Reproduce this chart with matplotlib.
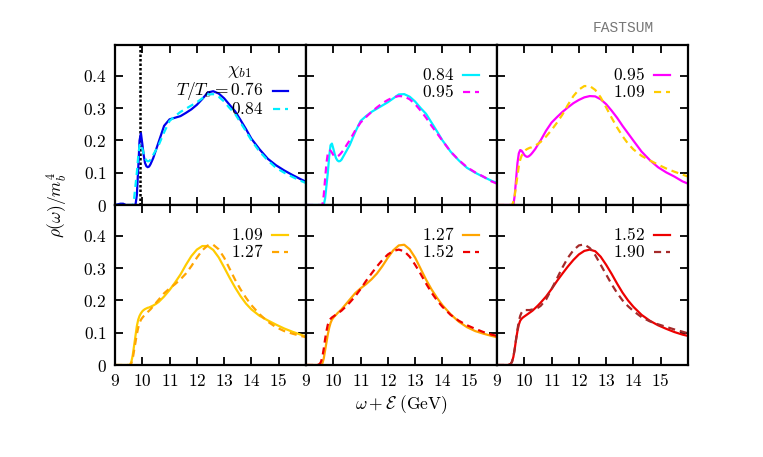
import matplotlib
matplotlib.use("Agg")
import matplotlib.pyplot as plt
import numpy as np

plt.rcParams['mathtext.fontset'] = 'cm'
plt.rcParams['font.family'] = ['DejaVu Serif']

# ---------------- data ----------------
omega = [9.0, 9.2, 9.3, 9.4, 9.5, 9.55, 9.6, 9.65, 9.7, 9.75, 9.8, 9.85, 9.9, 9.95,
         10.0, 10.05, 10.1, 10.15, 10.2, 10.25, 10.3, 10.4, 10.5, 10.6, 10.8, 11.0,
         11.2, 11.4, 11.6, 11.8, 12.0, 12.2, 12.4, 12.6, 12.8, 13.0, 13.2, 13.4,
         13.6, 13.8, 14.0, 14.3, 14.6, 14.9, 15.2, 15.5, 15.8, 16.0]

rho_076 = [0.0, 0.004, 0.004, 0.0, 0.0, 0.0, 0.0, 0.0, 0.0, 0.0, 0.03, 0.11, 0.20, 0.222,
           0.19, 0.155, 0.13, 0.12, 0.117, 0.119, 0.126, 0.145, 0.17, 0.195, 0.245, 0.265,
           0.27, 0.275, 0.285, 0.296, 0.31, 0.328, 0.348, 0.352, 0.345, 0.33, 0.31, 0.29,
           0.263, 0.235, 0.205, 0.172, 0.143, 0.123, 0.107, 0.093, 0.080, 0.072]
rho_084 = [0.0, 0.0, 0.0, 0.0, 0.0, 0.0, 0.0, 0.0, 0.02, 0.06, 0.10, 0.15, 0.185, 0.19,
           0.175, 0.158, 0.145, 0.138, 0.135, 0.136, 0.14, 0.155, 0.17, 0.185, 0.225, 0.26,
           0.275, 0.288, 0.298, 0.308, 0.318, 0.33, 0.342, 0.343, 0.335, 0.32, 0.30, 0.282,
           0.255, 0.228, 0.20, 0.165, 0.138, 0.115, 0.10, 0.087, 0.075, 0.068]
rho_095 = [0.0, 0.0, 0.0, 0.0, 0.0, 0.0, 0.0, 0.03, 0.08, 0.13, 0.16, 0.170, 0.168, 0.162,
           0.155, 0.151, 0.149, 0.150, 0.153, 0.157, 0.162, 0.173, 0.187, 0.20, 0.23, 0.255,
           0.272, 0.288, 0.302, 0.315, 0.325, 0.333, 0.337, 0.336, 0.327, 0.312, 0.292, 0.27,
           0.245, 0.222, 0.199, 0.165, 0.139, 0.117, 0.101, 0.088, 0.073, 0.066]
rho_109 = [0.0, 0.0, 0.0, 0.0, 0.0, 0.0, 0.01, 0.03, 0.06, 0.09, 0.12, 0.14, 0.152, 0.160,
           0.166, 0.170, 0.173, 0.175, 0.177, 0.178, 0.180, 0.184, 0.189, 0.195, 0.212, 0.232,
           0.255, 0.28, 0.31, 0.337, 0.357, 0.368, 0.368, 0.356, 0.333, 0.302, 0.27, 0.24,
           0.213, 0.19, 0.172, 0.152, 0.138, 0.125, 0.113, 0.103, 0.094, 0.088]
rho_127 = [0.0, 0.0, 0.0, 0.0, 0.0, 0.0, 0.005, 0.02, 0.045, 0.07, 0.095, 0.115, 0.13, 0.14,
           0.146, 0.151, 0.155, 0.160, 0.164, 0.168, 0.172, 0.182, 0.192, 0.202, 0.222, 0.237,
           0.25, 0.265, 0.283, 0.306, 0.332, 0.355, 0.37, 0.372, 0.358, 0.332, 0.298, 0.264,
           0.234, 0.208, 0.185, 0.157, 0.134, 0.117, 0.105, 0.097, 0.09, 0.086]
rho_152 = [0.0, 0.0, 0.0, 0.0, 0.003, 0.01, 0.025, 0.05, 0.08, 0.105, 0.125, 0.137, 0.143, 0.147,
           0.15, 0.153, 0.156, 0.159, 0.162, 0.165, 0.168, 0.176, 0.184, 0.193, 0.212, 0.235,
           0.26, 0.283, 0.305, 0.325, 0.342, 0.353, 0.357, 0.352, 0.335, 0.31, 0.282, 0.252,
           0.224, 0.20, 0.18, 0.155, 0.137, 0.123, 0.112, 0.102, 0.094, 0.09]
rho_190 = [0.0, 0.0, 0.0, 0.0, 0.003, 0.01, 0.025, 0.05, 0.08, 0.11, 0.135, 0.152, 0.162, 0.168,
           0.170, 0.170, 0.170, 0.170, 0.170, 0.171, 0.172, 0.174, 0.177, 0.183, 0.203, 0.235,
           0.268, 0.302, 0.332, 0.355, 0.37, 0.373, 0.362, 0.34, 0.31, 0.28, 0.25, 0.223,
           0.20, 0.182, 0.167, 0.148, 0.135, 0.126, 0.118, 0.11, 0.103, 0.098]

temperatures = ['0.76', '0.84', '0.95', '1.09', '1.27', '1.52', '1.90']
series = {'0.76': rho_076, '0.84': rho_084, '0.95': rho_095, '1.09': rho_109,
          '1.27': rho_127, '1.52': rho_152, '1.90': rho_190}
colors = {'0.76': '#0000ee', '0.84': '#00eeff', '0.95': '#ff00ff', '1.09': '#ffcc00',
          '1.27': '#ffa500', '1.52': '#ee0000', '1.90': '#a52a2a'}

# pairs (solid, dashed) per panel
panels = [('0.76', '0.84'), ('0.84', '0.95'), ('0.95', '1.09'),
          ('1.09', '1.27'), ('1.27', '1.52'), ('1.52', '1.90')]

chi_b1_mass = 9.9
xticks = [9, 10, 11, 12, 13, 14, 15]
xtick_labels = ['9', '10', '11', '12', '13', '14', '15']
yticks = [0.0, 0.1, 0.2, 0.3, 0.4]
ytick_labels = ['0', '0.1', '0.2', '0.3', '0.4']

# ---------------- figure ----------------
fig = plt.figure(figsize=(7.63, 4.57), dpi=100)
gs = fig.add_gridspec(2, 3, left=115/763, right=688/763, top=1-45/457, bottom=1-365/457,
                      wspace=0, hspace=0)

fs = 12.5
for i, (s_solid, s_dash) in enumerate(panels):
    r, c = divmod(i, 3)
    ax = fig.add_subplot(gs[r, c])
    ax.plot(omega, series[s_solid], color=colors[s_solid], lw=1.6, solid_capstyle='butt')
    ax.plot(omega, series[s_dash], color=colors[s_dash], lw=1.6, dashes=(3.2, 2.2))
    if i == 0:
        ax.axvline(chi_b1_mass, color='black', ls=(0, (1, 0.8)), lw=1.8, zorder=1)
    ax.set_xlim(9, 16)
    ax.set_ylim(0, 0.495)
    ax.set_xticks(xticks + [16])
    ax.set_yticks(yticks)
    ax.tick_params(direction='in', top=True, right=True, length=6, width=1.3,
                   labelsize=fs, pad=6)
    if r == 1:
        ax.set_xticklabels(['$%s$' % t for t in xtick_labels] + [''])
    else:
        ax.set_xticklabels([])
    if c == 0:
        ax.set_yticklabels(['$%s$' % t for t in ytick_labels])
    else:
        ax.set_yticklabels([])
    for sp in ax.spines.values():
        sp.set_linewidth(1.6)

    # manual legend (gnuplot style: text then sample)
    if i == 0:
        ax.text(0.654, 0.835, r'$\chi_{b1}$', transform=ax.transAxes, ha='center',
                va='center', fontsize=fs + 1)
        rows = [(0.712, r'$T/T_c = %s$' % s_solid, s_solid, '-'),
                (0.598, r'$%s$' % s_dash, s_dash, '--')]
        tx, l0, l1 = 0.775, 0.827, 0.906
    else:
        rows = [(0.8125, r'$%s$' % s_solid, s_solid, '-'),
                (0.706, r'$%s$' % s_dash, s_dash, '--')]
        tx, l0, l1 = 0.777, 0.82, 0.908
    for (yy, lab, key, ls) in rows:
        ax.text(tx, yy, lab, transform=ax.transAxes, ha='right', va='center', fontsize=fs)
        if ls == '-':
            ax.plot([l0, l1], [yy, yy], transform=ax.transAxes, color=colors[key], lw=1.6)
        else:
            ax.plot([l0, l1], [yy, yy], transform=ax.transAxes, color=colors[key], lw=1.6,
                    dashes=(3.2, 2.2))

fig.text(57/763, 1 - 205/457, r'$\rho(\omega)/m_b^4$', rotation=90, ha='center',
         va='center', fontsize=fs)
fig.text(401/763, 1 - 405/457, r'$\omega + \mathcal{E}\ \mathrm{(GeV)}$', ha='center',
         va='center', fontsize=fs)
fig.text(593/763, 1 - 28/457, 'FASTSUM', family='Liberation Mono', color='#777777',
         fontsize=10.5, ha='left', va='center')

fig.savefig('out.png', dpi=100, facecolor='white')
